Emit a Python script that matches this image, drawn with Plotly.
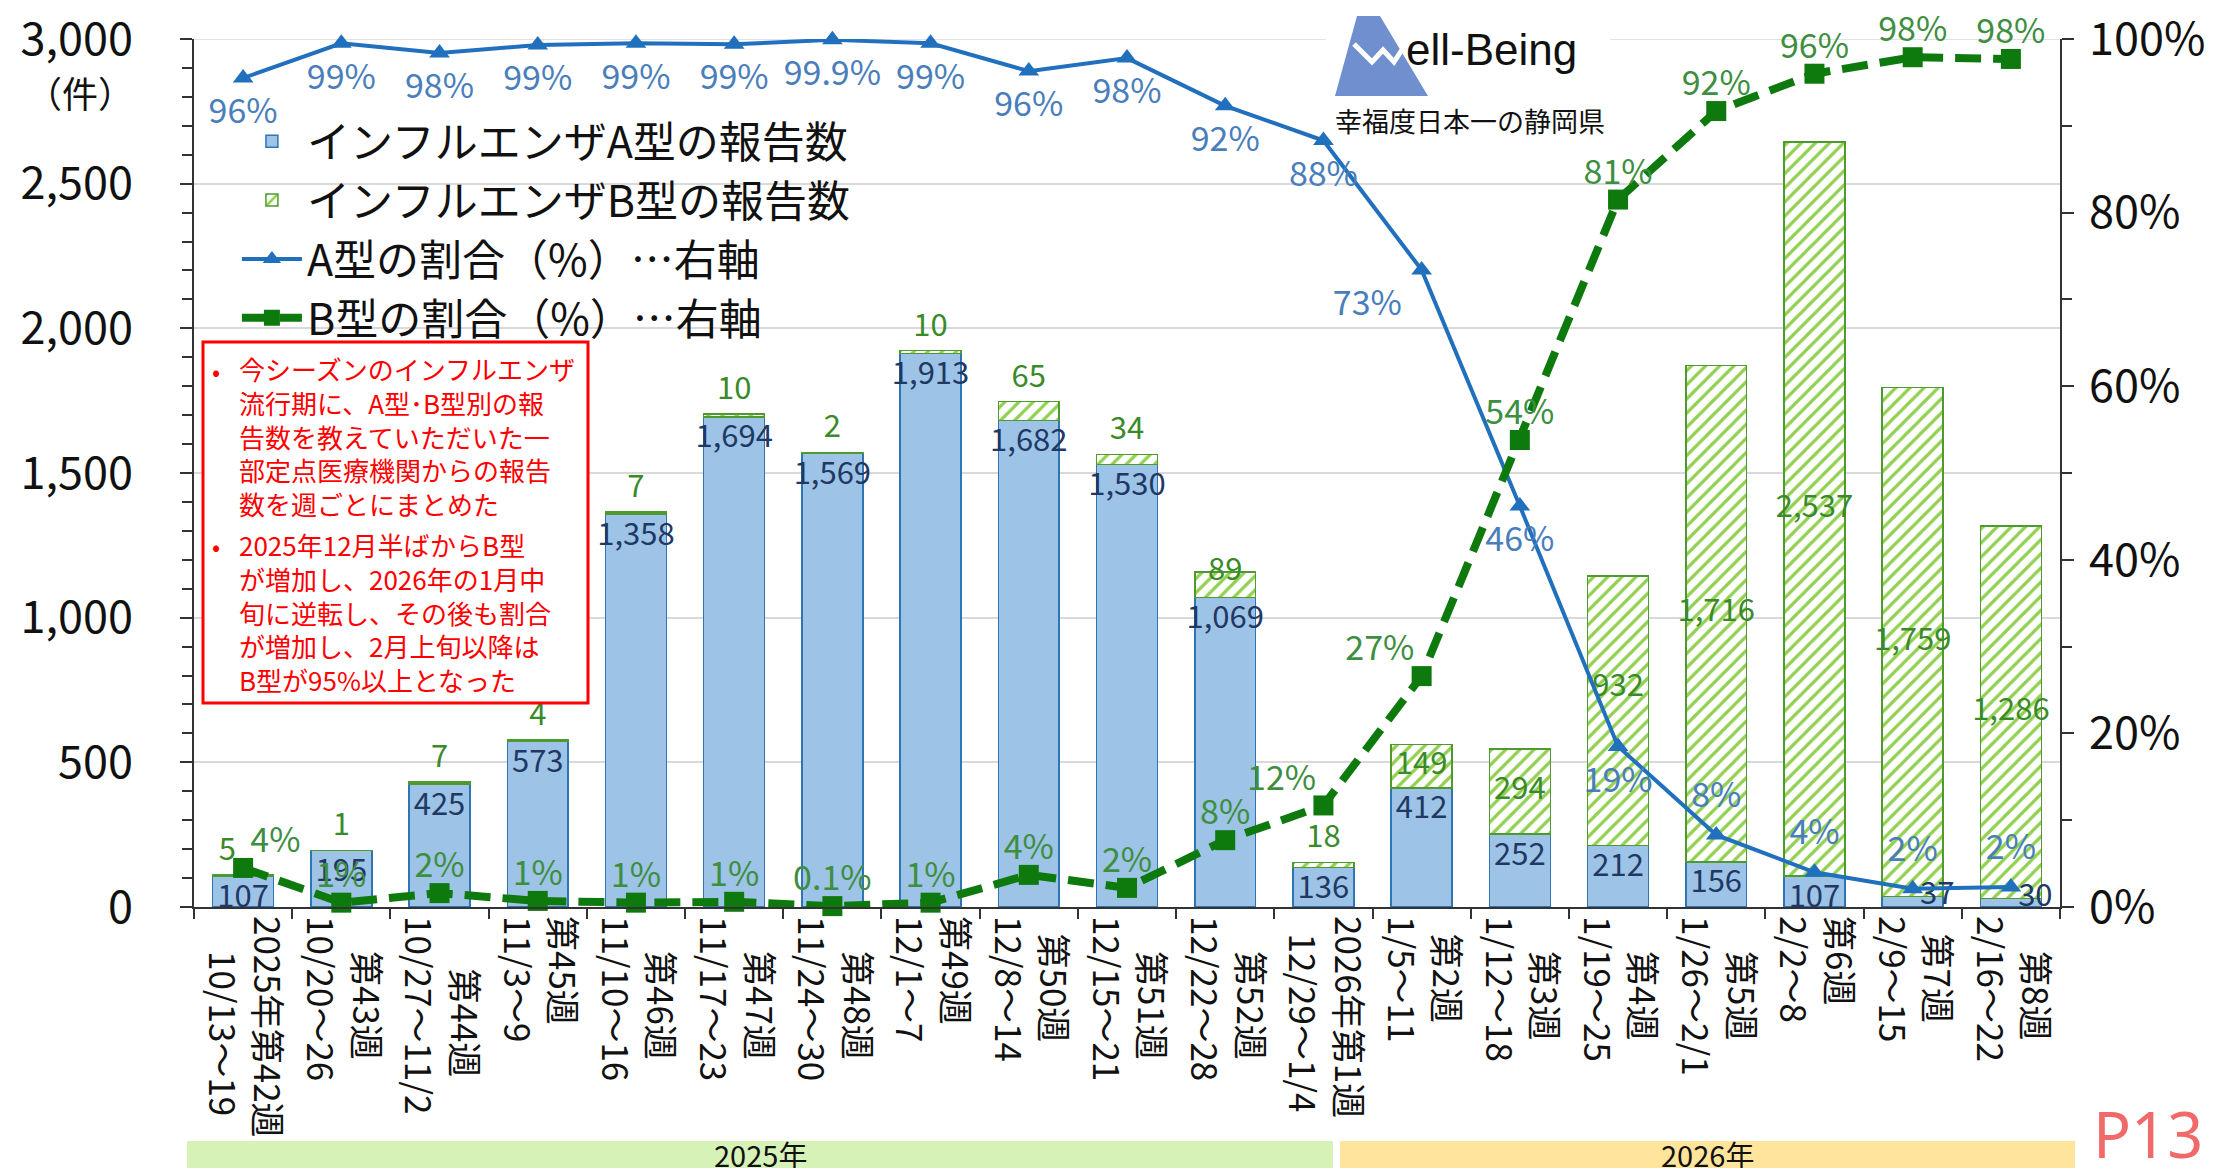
import plotly.graph_objects as go

# ---------------- data ----------------
weeks = ["2025年第42週", "第43週", "第44週", "第45週", "第46週", "第47週", "第48週",
         "第49週", "第50週", "第51週", "第52週", "2026年第1週", "第2週", "第3週",
         "第4週", "第5週", "第6週", "第7週", "第8週"]
dates = ["10/13～19", "10/20～26", "10/27～11/2", "11/3～9", "11/10～16", "11/17～23",
         "11/24～30", "12/1～7", "12/8～14", "12/15～21", "12/22～28", "12/29～1/4",
         "1/5～11", "1/12～18", "1/19～25", "1/26～2/1", "2/2～8", "2/9～15", "2/16～22"]
a_counts = [107, 195, 425, 573, 1358, 1694, 1569, 1913, 1682, 1530, 1069, 136,
            412, 252, 212, 156, 107, 37, 30]
b_counts = [5, 1, 7, 4, 7, 10, 2, 10, 65, 34, 89, 18,
            149, 294, 932, 1716, 2537, 1759, 1286]
a_share = [95.5, 99.5, 98.4, 99.3, 99.5, 99.4, 99.9, 99.5, 96.3, 97.8, 92.3, 88.3,
           73.4, 46.2, 18.5, 8.3, 4.0, 2.1, 2.3]
b_share = [4.5, 0.5, 1.6, 0.7, 0.5, 0.6, 0.1, 0.5, 3.7, 2.2, 7.7, 11.7,
           26.6, 53.8, 81.5, 91.7, 96.0, 97.9, 97.7]
a_share_labels = ["96%", "99%", "98%", "99%", "99%", "99%", "99.9%", "99%", "96%", "98%",
                  "92%", "88%", "73%", "46%", "19%", "8%", "4%", "2%", "2%"]
b_share_labels = ["4%", "1%", "2%", "1%", "1%", "1%", "0.1%", "1%", "4%", "2%",
                  "8%", "12%", "27%", "54%", "81%", "92%", "96%", "98%", "98%"]
left_ticks = [0, 500, 1000, 1500, 2000, 2500, 3000]
right_ticks = [0, 20, 40, 60, 80, 100]
years = ["2025年", "2026年"]

note1 = ["今シーズンのインフルエンザ", "流行期に、A型･B型別の報", "告数を教えていただいた一",
         "部定点医療機関からの報告", "数を週ごとにまとめた"]
note2 = ["2025年12月半ばからB型", "が増加し、2026年の1月中", "旬に逆転し、その後も割合",
         "が増加し、2月上旬以降は", "B型が95%以上となった"]

# ---------------- styling / layout helpers ----------------
W, H = 2219, 1168
ML, MR, MT, MB = 186, 167, 31, 269
PW, PH = W - ML - MR, H - MT - MB


def px(x):
    return (x - ML) / PW


def py(y):
    return (H - MB - y) / PH


def disp_w(s):
    w = 0.0
    for ch in s:
        if ord(ch) > 0x2E80:
            w += 1.0
        elif ch == "/":
            w += 0.38
        else:
            w += 0.56
    return w


def centered_pair(l1, l2):
    w1, w2 = disp_w(l1), disp_w(l2)
    n_half = int(round(abs(w1 - w2) / 2 / 0.5))
    pad = "\u3000" * (n_half // 2) + "\u2002" * (n_half % 2)
    if w1 < w2:
        l1 = pad + l1
    else:
        l2 = pad + l2
    return l1 + "<br>" + l2


ticktext = [centered_pair(w_, d_) for w_, d_ in zip(weeks, dates)]

FONT = "Noto Sans CJK JP, Noto Sans, sans-serif"
C_A_FILL, C_A_EDGE = "#9DC3E6", "#2E75B6"
C_B_FG, C_B_EDGE = "#92D050", "#4E9A2E"
C_A_LINE, C_B_LINE = "#2070BE", "#0E7A0E"
C_A_CNT, C_B_CNT = "#1F3864", "#3A8A2A"
C_A_PCT, C_B_PCT = "#4A7EBB", "#3E8E41"

# label placement
a_cnt_pos = ["bottom center"] * 17 + ["middle right"] * 2
b_mode = ["top-left"] + ["top"] * 9 + ["on-top"] + ["top"] + ["mid"] * 2 + ["mid-up"] + ["mid"] * 4
b_lab_y, b_lab_pos = [], []
for a, b, m in zip(a_counts, b_counts, b_mode):
    if m == "top-left":
        b_lab_y.append(a + b); b_lab_pos.append("top left")
    elif m == "top":
        b_lab_y.append(a + b); b_lab_pos.append("top center")
    elif m == "on-top":
        b_lab_y.append(a + b); b_lab_pos.append("middle center")
    elif m == "mid-up":
        b_lab_y.append(a + b / 2); b_lab_pos.append("top center")
    else:
        b_lab_y.append(a + b / 2); b_lab_pos.append("middle center")
a_pct_pos = ["bottom center"] * 12 + ["bottom left"] + ["bottom center"] * 2 + ["top center"] * 4
b_pct_pos = ["top right"] + ["top center"] * 10 + ["top left"] * 2 + ["top center"] * 6

fig = go.Figure()
fig.add_trace(go.Bar(
    x=weeks, y=a_counts, name="インフルエンザA型の報告数",
    marker=dict(color=C_A_FILL, line=dict(color=C_A_EDGE, width=1.5)),
    hoverinfo="skip"))
fig.add_trace(go.Bar(
    x=weeks, y=b_counts, name="インフルエンザB型の報告数",
    marker=dict(color="white",
                pattern=dict(shape="/", fgcolor=C_B_FG, bgcolor="white", size=10,
                             solidity=0.32, fillmode="replace"),
                line=dict(color=C_B_EDGE, width=1.5)),
    hoverinfo="skip"))
fig.add_trace(go.Scatter(
    x=weeks, y=a_share, yaxis="y2", name="A型の割合（%）…右軸", mode="lines+markers",
    line=dict(color=C_A_LINE, width=4),
    marker=dict(symbol="triangle-up", size=18, color=C_A_LINE), hoverinfo="skip",
    cliponaxis=False))
fig.add_trace(go.Scatter(
    x=weeks, y=b_share, yaxis="y2", name="B型の割合（%）…右軸", mode="lines+markers",
    line=dict(color=C_B_LINE, width=8, dash="26px,12px"),
    marker=dict(symbol="square", size=20, color=C_B_LINE), hoverinfo="skip",
    cliponaxis=False))

# count labels
fig.add_trace(go.Scatter(
    x=weeks, y=a_counts, mode="markers+text", text=[f"{v:,}" for v in a_counts],
    textposition=a_cnt_pos, textfont=dict(size=31, color=C_A_CNT, family=FONT),
    marker=dict(size=10, opacity=0), showlegend=False, hoverinfo="skip", cliponaxis=False))
fig.add_trace(go.Scatter(
    x=weeks, y=b_lab_y, mode="markers+text", text=[f"{v:,}" for v in b_counts],
    textposition=b_lab_pos, textfont=dict(size=31, color=C_B_CNT, family=FONT),
    marker=dict(size=10, opacity=0), showlegend=False, hoverinfo="skip", cliponaxis=False))
# percentage labels
fig.add_trace(go.Scatter(
    x=weeks, y=a_share, yaxis="y2", mode="markers+text", text=a_share_labels,
    textposition=a_pct_pos, textfont=dict(size=34, color=C_A_PCT, family=FONT),
    marker=dict(size=30, opacity=0), showlegend=False, hoverinfo="skip", cliponaxis=False))
fig.add_trace(go.Scatter(
    x=weeks, y=b_share, yaxis="y2", mode="markers+text", text=b_share_labels,
    textposition=b_pct_pos, textfont=dict(size=34, color=C_B_PCT, family=FONT),
    marker=dict(size=10, opacity=0), showlegend=False, hoverinfo="skip", cliponaxis=False))

axis_col = "#333333"
fig.update_layout(
    width=W, height=H, autosize=False,
    margin=dict(l=ML, r=MR, t=MT, b=MB, autoexpand=False),
    paper_bgcolor="white", plot_bgcolor="white",
    font=dict(family=FONT, color="#222222"),
    barmode="stack", bargap=0.38,
    showlegend=True,
    legend=dict(x=0.023, y=0.922, xanchor="left", yanchor="top",
                bgcolor="rgba(255,255,255,0)",
                font=dict(size=43, color="#111111", family=FONT), traceorder="normal",
                itemwidth=60, tracegroupgap=0),
    xaxis=dict(type="category", tickmode="array", tickvals=weeks, ticktext=ticktext,
               tickangle=90, tickson="boundaries", ticks="outside", ticklen=10,
               tickwidth=1.5, tickcolor=axis_col, showline=True, linecolor=axis_col,
               linewidth=2, showgrid=False, tickfont=dict(size=35, color="#111111"),
               range=[-0.5, len(weeks) - 0.5], automargin=False),
    yaxis=dict(range=[0, 3000], tickmode="array", tickvals=left_ticks,
               ticktext=[f"{v:,}" for v in left_ticks], ticks="outside", ticklen=12,
               tickwidth=1.5, tickcolor=axis_col, showline=True, linecolor=axis_col,
               linewidth=2, showgrid=True, gridcolor="#D9D9D9", gridwidth=1.5,
               zeroline=False, tickfont=dict(size=45, color="#111111"),
               ticklabelstandoff=38, ticklabeloverflow="allow", automargin=False,
               minor=dict(dtick=100, ticks="outside", ticklen=10, tickcolor=axis_col,
                          tickwidth=1.5, showgrid=False)),
    yaxis2=dict(range=[0, 100], overlaying="y", side="right", tickmode="array",
                tickvals=right_ticks, ticktext=[f"{v}%" for v in right_ticks],
                ticks="outside", ticklen=12, tickwidth=1.5, tickcolor=axis_col,
                showline=True, linecolor=axis_col, linewidth=2, showgrid=False,
                zeroline=False, tickfont=dict(size=45, color="#111111"),
                ticklabelstandoff=6, ticklabeloverflow="allow", automargin=False,
                minor=dict(dtick=10, ticks="outside", ticklen=10, tickcolor=axis_col,
                           tickwidth=1.5, showgrid=False)),
)

shapes = []
annotations = []

# top gridline (plotly omits gridlines at the range edge)
shapes.append(dict(type="line", xref="paper", yref="y", x0=0, x1=1,
                   y0=left_ticks[-1], y1=left_ticks[-1],
                   line=dict(color="#D9D9D9", width=1.5), layer="between"))
# white backdrop behind the legend (hides gridlines, stays under the data)
shapes.append(dict(type="rect", xref="paper", yref="paper", x0=px(228), x1=px(975),
                   y0=py(338), y1=py(112), line=dict(width=0), fillcolor="white",
                   layer="between"))

# unit label
annotations.append(dict(x=px(72), y=py(84), xref="paper", yref="paper", text="（件）",
                        xanchor="center", yanchor="middle",
                        showarrow=False, font=dict(size=36, color="#111111")))

# note box
shapes.append(dict(type="rect", xref="paper", yref="paper", x0=px(195), x1=px(580),
                   y0=py(695), y1=py(334), line=dict(color="#FF0000", width=3),
                   fillcolor="white", layer="above"))
for lines, cy in ((note1, 428), (note2, 604)):
    annotations.append(dict(x=px(229), y=py(cy), xref="paper", yref="paper",
                            xanchor="left", yanchor="middle", align="left",
                            text="<br>".join(lines), showarrow=False,
                            font=dict(size=26, color="#FF0000")))
for by in (362, 537):
    annotations.append(dict(x=px(208), y=py(by), xref="paper", yref="paper",
                            xanchor="center", yanchor="middle",
                            text="•", showarrow=False,
                            font=dict(size=24, color="#FF0000")))

# logo
shapes.append(dict(type="rect", xref="paper", yref="paper", x0=px(1318), x1=px(1602),
                   y0=py(132), y1=py(0), line=dict(width=0), fillcolor="white",
                   layer="between"))
trap = [(1349, 8), (1372, 8), (1420, 88), (1327, 88)]
path = "M " + " L ".join(f"{px(x):.5f},{py(y):.5f}" for x, y in trap) + " Z"
shapes.append(dict(type="path", xref="paper", yref="paper", path=path,
                   fillcolor="#6F8FCF", line=dict(width=0), layer="above"))
wpts = [(1346, 36), (1364, 54), (1375, 42), (1386, 54), (1399, 34)]
wpath = "M " + " L ".join(f"{px(x):.5f},{py(y):.5f}" for x, y in wpts)
shapes.append(dict(type="path", xref="paper", yref="paper", path=wpath,
                   line=dict(color="white", width=5), layer="above"))
annotations.append(dict(x=px(1396), y=py(42), xref="paper", yref="paper", xanchor="left",
                        yanchor="middle", text="ell-Being", showarrow=False,
                        font=dict(size=44, color="#111111",
                                  family="Liberation Sans, Arial, sans-serif")))
annotations.append(dict(x=px(1462), y=py(112), xref="paper", yref="paper",
                        xanchor="center", yanchor="middle",
                        text="幸福度日本一の静岡県", showarrow=False,
                        font=dict(size=27, color="#111111")))

# year bands
for (label, x0, x1, col) in ((years[0], 179, 1325, "#D6F2B6"),
                             (years[1], 1332, 2067, "#FFE59B")):
    shapes.append(dict(type="rect", xref="paper", yref="paper", x0=px(x0), x1=px(x1),
                       y0=py(1160), y1=py(1133), line=dict(width=0), fillcolor=col,
                       layer="above"))
    annotations.append(dict(x=px((x0 + x1) / 2), y=py(1146), xref="paper", yref="paper",
                            xanchor="center", yanchor="middle",
                            text=label, showarrow=False,
                            font=dict(size=29, color="#111111")))

# page number
annotations.append(dict(x=px(2140), y=py(1125), xref="paper", yref="paper", text="P13",
                        xanchor="center", yanchor="middle", showarrow=False,
                        font=dict(size=63, color="#F06A6A", family="Noto Sans, sans-serif")))

fig.update_layout(shapes=shapes, annotations=annotations)
fig.write_html("out.html")
